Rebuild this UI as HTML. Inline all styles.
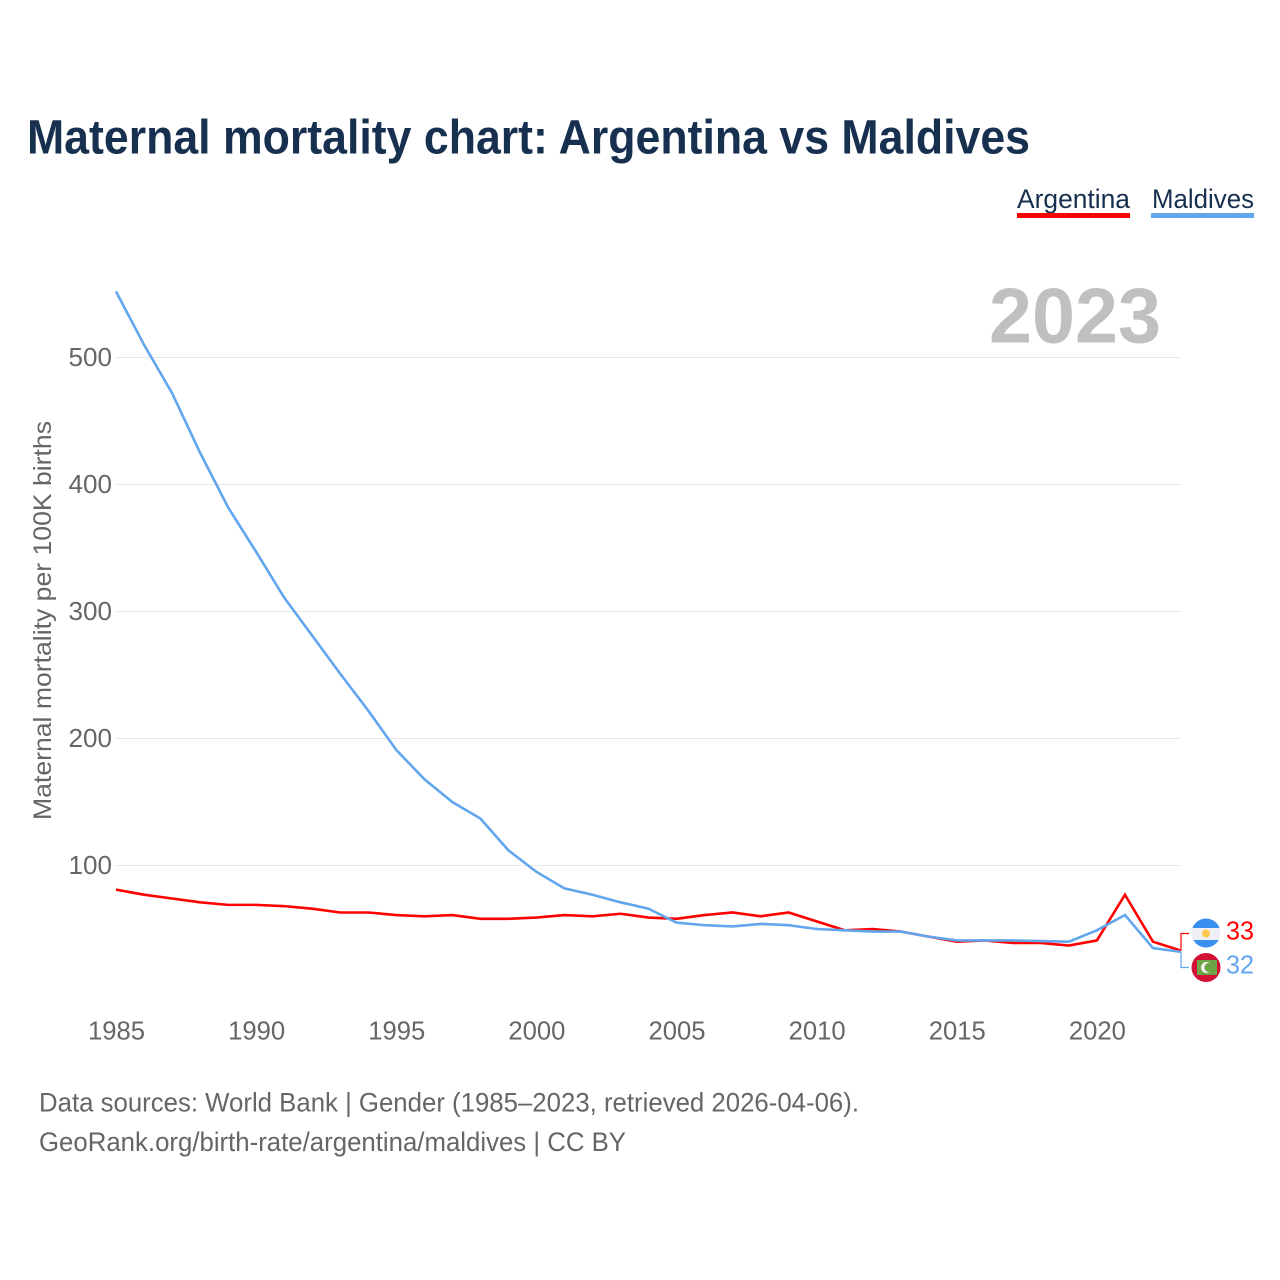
<!DOCTYPE html>
<html lang="en">
<head>
<meta charset="utf-8">
<title>Maternal mortality chart: Argentina vs Maldives</title>
<style>
html,body{margin:0;padding:0;background:#fff;width:1280px;height:1280px;overflow:hidden}
svg{display:block}
text{font-family:"Liberation Sans",Arial,sans-serif}
</style>
</head>
<body>
<svg id="chart" xmlns="http://www.w3.org/2000/svg" width="1280" height="1280" viewBox="0 0 1280 1280">
  <defs>
    <clipPath id="clip-ar"><circle cx="1206" cy="933" r="14.5"/></clipPath>
    <clipPath id="clip-mv"><circle cx="1206" cy="967.5" r="14.5"/></clipPath>
  </defs>
  <rect width="1280" height="1280" fill="#ffffff"/>
  <text x="27" y="153.5" font-size="48" font-weight="700" fill="#17304f" textLength="1003" lengthAdjust="spacingAndGlyphs">Maternal mortality chart: Argentina vs Maldives</text>

  <g>
    <text x="1017" y="208" font-size="27" fill="#17304f" textLength="113" lengthAdjust="spacingAndGlyphs">Argentina</text>
    <rect x="1017" y="213" width="113" height="5" fill="#ff0000"/>
    <text x="1152" y="208" font-size="27" fill="#17304f" textLength="102" lengthAdjust="spacingAndGlyphs">Maldives</text>
    <rect x="1151" y="213" width="103" height="5" fill="#62a6ee"/>
  </g>

  <g id="grid"></g>
  <g id="y-ticks"></g>
  <g id="x-ticks"></g>
  <text transform="translate(51,820) rotate(-90)" x="0" y="0" font-size="25" fill="#666666" textLength="399" lengthAdjust="spacingAndGlyphs">Maternal mortality per 100K births</text>
  <text id="year-label" x="989" y="342.5" font-size="78" font-weight="700" fill="#c0c0c0" textLength="172" lengthAdjust="spacingAndGlyphs">2023</text>

  <g id="series"></g>
  <g id="connectors"></g>

  <g clip-path="url(#clip-ar)">
    <rect x="1191" y="918" width="30" height="30" fill="#eef0f5"/>
    <rect x="1191" y="918" width="30" height="10" fill="#3b8fef"/>
    <rect x="1191" y="940" width="30" height="8" fill="#3b8fef"/>
    <circle cx="1206" cy="933.5" r="4" fill="#fdc94a"/>
  </g>
  <g clip-path="url(#clip-mv)">
    <rect x="1191" y="952" width="30" height="31" fill="#d20f34"/>
    <rect x="1197" y="960" width="20" height="15" fill="#6da544"/>
    <circle cx="1206.5" cy="967.5" r="5.5" fill="#f0f0f0"/>
    <circle cx="1209" cy="967.5" r="4.6" fill="#6da544"/>
  </g>
  <text id="end-label-argentina" x="1226" y="939.5" font-size="26" fill="#ff0000" textLength="28" lengthAdjust="spacingAndGlyphs"></text>
  <text id="end-label-maldives" x="1226" y="973.5" font-size="26" fill="#62a6ee" textLength="28" lengthAdjust="spacingAndGlyphs"></text>

  <g>
    <text x="39" y="1111.5" font-size="26.5" fill="#666666" textLength="820" lengthAdjust="spacingAndGlyphs">Data sources: World Bank | Gender (1985–2023, retrieved 2026-04-06).</text>
    <text x="39" y="1151" font-size="26.5" fill="#666666" textLength="587" lengthAdjust="spacingAndGlyphs">GeoRank.org/birth-rate/argentina/maldives | CC BY</text>
  </g>
</svg>
<script>
const years = [1985,1986,1987,1988,1989,1990,1991,1992,1993,1994,1995,1996,1997,1998,1999,2000,2001,2002,2003,2004,2005,2006,2007,2008,2009,2010,2011,2012,2013,2014,2015,2016,2017,2018,2019,2020,2021,2022,2023];
const argentinaValues = [81,77,74,71,69,69,68,66,63,63,61,60,61,58,58,59,61,60,62,59,58,61,63,60,63,56,49,50,48,44,40,41,39,39,37,41,77,40,33];
const maldivesValues = [552,510,472,425,382,347,311,281,251,222,191,168,150,137,112,95,82,77,71,66,55,53,52,54,53,50,49,48,48,44,41,41,41,40.5,40,49,61,35,32];
const yTickValues = [100,200,300,400,500];
const xTickValues = [1985,1990,1995,2000,2005,2010,2015,2020];

const svgNS = 'http://www.w3.org/2000/svg';
function xScale(year){ return 116 + (year - 1985) * (1181 - 116) / (2023 - 1985); }
function yScale(value){ return 992.5 - value * 1.27; }

const gridGroup = document.getElementById('grid');
const yTickGroup = document.getElementById('y-ticks');
yTickValues.forEach(function(v){
  const line = document.createElementNS(svgNS,'line');
  
  
  line.setAttribute('x1', 116);
  line.setAttribute('x2', 1181);
  line.setAttribute('y1', yScale(v));
  line.setAttribute('y2', yScale(v));
  line.setAttribute('stroke', '#e8e8e8');
  line.setAttribute('stroke-width', 1);
  gridGroup.appendChild(line);
  const label = document.createElementNS(svgNS,'text');
  
  
  label.setAttribute('x', 112);
  label.setAttribute('y', yScale(v) + 8.5);
  label.setAttribute('text-anchor', 'end');
  label.setAttribute('font-size', 26);
  label.setAttribute('fill', '#666666');
  label.setAttribute('textLength', 43.5);
  label.setAttribute('lengthAdjust', 'spacingAndGlyphs');
  label.textContent = v;
  yTickGroup.appendChild(label);
});

const xTickGroup = document.getElementById('x-ticks');
xTickValues.forEach(function(v){
  const label = document.createElementNS(svgNS,'text');
  
  
  label.setAttribute('x', xScale(v) + 0.5);
  label.setAttribute('y', 1039.5);
  label.setAttribute('text-anchor', 'middle');
  label.setAttribute('font-size', 26);
  label.setAttribute('fill', '#666666');
  label.setAttribute('textLength', 57);
  label.setAttribute('lengthAdjust', 'spacingAndGlyphs');
  label.textContent = v;
  xTickGroup.appendChild(label);
});

function linePoints(values){
  return values.map(function(v,i){ return xScale(years[i]).toFixed(2) + ',' + yScale(v).toFixed(2); }).join(' ');
}
const seriesGroup = document.getElementById('series');
const argentinaLine = document.createElementNS(svgNS,'polyline');


argentinaLine.setAttribute('points', linePoints(argentinaValues));
argentinaLine.setAttribute('fill', 'none');
argentinaLine.setAttribute('stroke', '#ff0000');
argentinaLine.setAttribute('stroke-width', 2.6);
seriesGroup.appendChild(argentinaLine);
const maldivesLine = document.createElementNS(svgNS,'polyline');


maldivesLine.setAttribute('points', linePoints(maldivesValues));
maldivesLine.setAttribute('fill', 'none');
maldivesLine.setAttribute('stroke', '#62a6ee');
maldivesLine.setAttribute('stroke-width', 2.6);
seriesGroup.appendChild(maldivesLine);

const connectorGroup = document.getElementById('connectors');
const lastX = xScale(years[years.length - 1]);
const argentinaConnector = document.createElementNS(svgNS,'polyline');


argentinaConnector.setAttribute('points', lastX + ',' + yScale(argentinaValues[argentinaValues.length - 1]) + ' ' + lastX + ',933.5 1189,933.5');
argentinaConnector.setAttribute('fill', 'none');
argentinaConnector.setAttribute('stroke', '#ff0000');
argentinaConnector.setAttribute('stroke-width', 1.2);
connectorGroup.appendChild(argentinaConnector);
const maldivesConnector = document.createElementNS(svgNS,'polyline');


maldivesConnector.setAttribute('points', lastX + ',' + yScale(maldivesValues[maldivesValues.length - 1]) + ' ' + lastX + ',967.5 1189,967.5');
maldivesConnector.setAttribute('fill', 'none');
maldivesConnector.setAttribute('stroke', '#62a6ee');
maldivesConnector.setAttribute('stroke-width', 1.2);
connectorGroup.appendChild(maldivesConnector);

document.getElementById('year-label').textContent = years[years.length - 1];
document.getElementById('end-label-argentina').textContent = argentinaValues[argentinaValues.length - 1];
document.getElementById('end-label-maldives').textContent = maldivesValues[maldivesValues.length - 1];
</script>
</body>
</html>
